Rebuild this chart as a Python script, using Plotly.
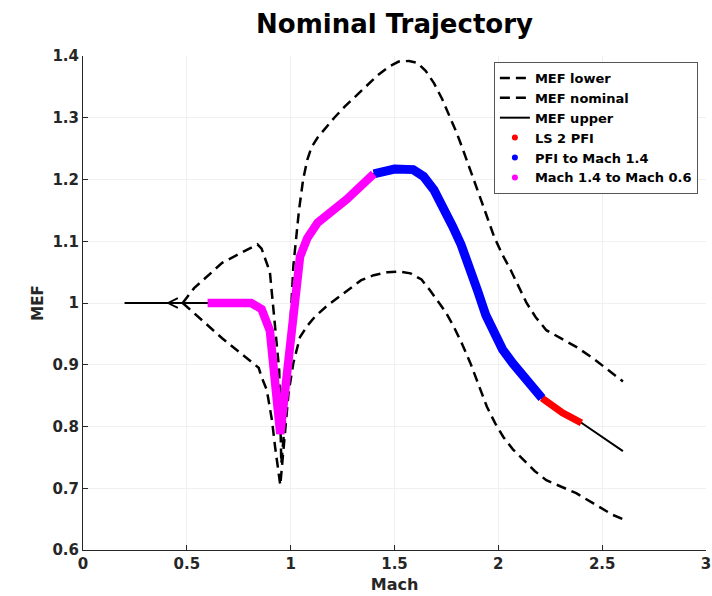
import numpy as np
import plotly.graph_objects as go

# Nominal trajectory (Mach decreasing along the flight)
mach_nominal = [2.60, 2.40, 2.31, 2.21, 2.165, 2.12, 2.07, 2.02, 1.98, 1.94, 1.90, 1.86,
                1.82, 1.78, 1.74, 1.69, 1.64, 1.59, 1.50, 1.45, 1.40, 1.27, 1.13, 1.08,
                1.045, 0.95, 0.90, 0.86, 0.81, 0.60, 0.40, 0.20]
mef_nominal = [0.760, 0.806, 0.822, 0.846, 0.863, 0.881, 0.902, 0.925, 0.950, 0.980, 1.020, 1.062,
               1.095, 1.124, 1.152, 1.183, 1.205, 1.216, 1.217, 1.214, 1.209, 1.168, 1.130, 1.105,
               1.075, 0.788, 0.955, 0.990, 1.000, 1.000, 1.000, 1.000]

# Lower dispersion bound
mach_lower = [0.48, 0.67, 0.846, 0.86, 0.885, 0.91, 0.925, 0.95, 0.97, 0.99, 1.013, 1.045,
              1.08, 1.117, 1.17, 1.228, 1.28, 1.34, 1.40, 1.467, 1.52, 1.577, 1.63, 1.67,
              1.706, 1.745, 1.785, 1.825, 1.865, 1.905, 1.945, 1.985, 2.024, 2.07, 2.12,
              2.175, 2.231, 2.30, 2.375, 2.46, 2.55, 2.60]
mef_lower = [1.000, 0.943, 0.895, 0.880, 0.859, 0.810, 0.767, 0.705, 0.780, 0.855, 0.903, 0.945,
             0.963, 0.978, 0.994, 1.008, 1.022, 1.037, 1.045, 1.050, 1.051, 1.048, 1.038, 1.021,
             1.005, 0.986, 0.962, 0.934, 0.903, 0.868, 0.832, 0.805, 0.783, 0.763, 0.746,
             0.728, 0.713, 0.703, 0.692, 0.675, 0.657, 0.650]

# Upper dispersion bound
mach_upper = [0.48, 0.535, 0.67, 0.84, 0.86, 0.90, 0.922, 0.945, 0.955, 0.973, 0.99, 1.013,
              1.04, 1.06, 1.08, 1.10, 1.13, 1.165, 1.21, 1.26, 1.32, 1.37, 1.42, 1.47,
              1.52, 1.57, 1.61, 1.65, 1.69, 1.73, 1.77, 1.80, 1.83, 1.865, 1.90, 1.94,
              1.98, 2.02, 2.06, 2.10, 2.136, 2.18, 2.231, 2.30, 2.375, 2.45, 2.53, 2.60]
mef_upper = [1.000, 1.024, 1.065, 1.095, 1.088, 1.050, 0.972, 0.890, 0.740, 0.810, 0.910, 1.060,
             1.150, 1.200, 1.232, 1.252, 1.268, 1.282, 1.300, 1.318, 1.337, 1.354, 1.369, 1.382,
             1.391, 1.392, 1.389, 1.376, 1.356, 1.330, 1.300, 1.275, 1.248, 1.216, 1.183, 1.145,
             1.107, 1.078, 1.053, 1.026, 1.000, 0.977, 0.956, 0.943, 0.929, 0.912, 0.892, 0.873]

# Flight phases as Mach intervals along the nominal trajectory
phase_names = ["LS 2 PFI", "PFI to Mach 1.4", "Mach 1.4 to Mach 0.6"]
phase_mach_lo = [2.21, 1.40, 0.60]
phase_mach_hi = [2.40, 2.21, 1.40]
phase_colors = ["#ff0000", "#0000ff", "#ff00ff"]
phase_widths = [7, 9, 8.5]

# Direction-of-flight marker position on the nominal line
arrow_mach = 0.40

x_ticks = [0, 0.5, 1, 1.5, 2, 2.5, 3]
y_ticks = [0.6, 0.7, 0.8, 0.9, 1.0, 1.1, 1.2, 1.3, 1.4]
x_tick_text = ["0", "0.5", "1", "1.5", "2", "2.5", "3"]
y_tick_text = ["0.6", "0.7", "0.8", "0.9", "1", "1.1", "1.2", "1.3", "1.4"]

FONT = "DejaVu Sans"
INK = "#262626"
DASH = "10px,6px"

mach_nom = np.array(mach_nominal)
mef_nom = np.array(mef_nominal)

fig = go.Figure()

fig.add_trace(go.Scatter(x=mach_lower, y=mef_lower, mode="lines", name="MEF lower",
                         line=dict(color="black", width=2.5, dash=DASH)))
fig.add_trace(go.Scatter(x=mach_upper, y=mef_upper, mode="lines", name="MEF nominal",
                         line=dict(color="black", width=2.5, dash=DASH)))
fig.add_trace(go.Scatter(x=mach_nominal, y=mef_nominal, mode="lines", name="MEF upper",
                         line=dict(color="black", width=2)))

# Coloured phase segments drawn over the nominal line
for name, lo, hi, col, w in zip(phase_names, phase_mach_lo, phase_mach_hi, phase_colors, phase_widths):
    mask = (mach_nom >= lo - 1e-9) & (mach_nom <= hi + 1e-9)
    fig.add_trace(go.Scatter(x=mach_nom[mask], y=mef_nom[mask], mode="lines",
                             line=dict(color=col, width=w), showlegend=False,
                             hoverinfo="skip"))

# Legend entries for the phases (dot symbols)
for name, col in zip(phase_names, phase_colors):
    fig.add_trace(go.Scatter(x=[None], y=[None], mode="markers", name=name,
                             marker=dict(color=col, size=6)))

# Arrow head showing direction of flight
i_arrow = int(np.argmin(np.abs(mach_nom - arrow_mach)))
fig.add_annotation(x=mach_nom[i_arrow], y=mef_nom[i_arrow],
                   ax=mach_nom[i_arrow] + 0.06, ay=mef_nom[i_arrow],
                   xref="x", yref="y", axref="x", ayref="y",
                   text="", showarrow=True, arrowhead=5, arrowsize=0.95,
                   arrowwidth=2, arrowcolor="black", standoff=0)

fig.update_layout(
    width=712, height=596,
    margin=dict(l=83, r=1, t=56, b=46),
    paper_bgcolor="white", plot_bgcolor="white",
    title=dict(text="<b>Nominal Trajectory</b>", x=0.5, xref="paper", xanchor="center",
               y=1 - 24 / 596, yref="container", yanchor="middle",
               font=dict(family=FONT, size=26, color="black")),
    font=dict(family=FONT, color=INK),
    showlegend=True,
    legend=dict(x=0.987, y=0.988, xanchor="right", yanchor="top",
                bgcolor="white", bordercolor="#555555", borderwidth=1,
                font=dict(family=FONT, size=13, color="black", weight="bold"),
                itemwidth=30, tracegroupgap=0),
)

fig.update_xaxes(range=[0, 3], tickvals=x_ticks, ticktext=x_tick_text,
                 showline=True, linecolor=INK, linewidth=1, mirror=False,
                 ticks="inside", ticklen=5, tickcolor=INK, ticklabeloverflow="allow",
                 showgrid=True, gridcolor="#f0f0f0", gridwidth=1, zeroline=False,
                 tickfont=dict(family=FONT, size=15, color=INK, weight="bold"),
                 title=dict(text="<b>Mach</b>", font=dict(family=FONT, size=16, color=INK),
                            standoff=6))
fig.update_yaxes(range=[0.6, 1.4], tickvals=y_ticks, ticktext=y_tick_text,
                 showline=True, linecolor=INK, linewidth=1, mirror=False,
                 ticks="inside", ticklen=5, tickcolor=INK, ticklabeloverflow="allow",
                 showgrid=True, gridcolor="#f0f0f0", gridwidth=1, zeroline=False,
                 tickfont=dict(family=FONT, size=15, color=INK, weight="bold"),
                 title=dict(text="<b>MEF</b>", font=dict(family=FONT, size=15, color=INK),
                            standoff=5))

fig.write_html("out.html")
